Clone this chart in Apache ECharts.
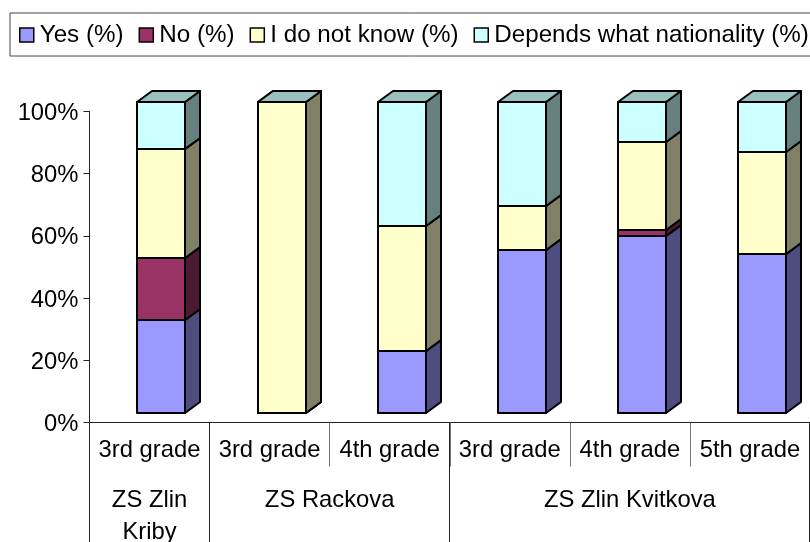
<!DOCTYPE html>
<html><head><meta charset="utf-8">
<style>html,body{margin:0;padding:0;background:#fff}#c{width:810px;height:542px}</style>
<script src="https://cdn.jsdelivr.net/npm/echarts@6/dist/echarts.min.js"></script></head>
<body><div id="c"></div>
<script>
const grades = ['3rd grade','3rd grade','4th grade','3rd grade','4th grade','5th grade'];
const schools = ['ZS Zlin\nKriby','ZS Rackova','ZS Zlin Kvitkova'];
const schoolSpans = [[0,0,0],[1,2,1],[3,5,2]];
const seriesNames = ['Yes (%)','No (%)','I do not know (%)','Depends what nationality (%)'];
const yes = [30,0,20,52.5,57,51];
const no = [20,0,0,0,2,0];
const unknown = [35,100,40,14,28,33];
const depends = [15,0,40,33.5,13,16];
const FONT = '"Liberation Sans", Arial, sans-serif';
const FS = 23.8;
const palette = [
 {f:'#9999FF',s:'#4D4D80',t:'#7373BF'},
 {f:'#993366',s:'#4D1A33',t:'#73264D'},
 {f:'#FFFFCC',s:'#808066',t:'#BFBF99'},
 {f:'#CCFFFF',s:'#668080',t:'#99BFBF'}];
const DX=15, DY=11, SHIFT_X=11.9, SHIFT_Y=9.5, BAR=48, STROKE='#000', SW=2;
const all=[yes,no,unknown,depends];
const base=grades.map(()=>0);
const barSeries=all.map((vals,si)=>{
  const data=vals.map((v,i)=>{const lo=base[i];base[i]+=v;return [i,lo,lo+v,v];});
  const c=palette[si];
  return {
    name:seriesNames[si],type:'custom',data,encode:{x:0,y:[1,2]},silent:true,
    itemStyle:{color:c.f},
    renderItem(p,api){
      const lo=api.coord([api.value(0),api.value(1)]);
      const hi=api.coord([api.value(0),api.value(2)]);
      const v=api.value(3);
      const x0=Math.round(lo[0]+SHIFT_X-BAR/2),x1=x0+BAR;
      const y0=Math.round(lo[1]-SHIFT_Y),y1=Math.round(hi[1]-SHIFT_Y);
      const st=fill=>({fill,stroke:STROKE,lineWidth:SW,lineJoin:'round'});
      const ch=[];
      if(v>0){
        ch.push({type:'polygon',shape:{points:[[x1,y0],[x1+DX,y0-DY],[x1+DX,y1-DY],[x1,y1]]},style:st(c.s)});
      }
      ch.push({type:'polygon',shape:{points:[[x0,y1],[x0+DX,y1-DY],[x1+DX,y1-DY],[x1,y1]]},style:st(c.t)});
      if(v>0){
        ch.push({type:'rect',shape:{x:x0,y:y1,width:BAR,height:y0-y1},style:st(c.f)});
      }
      return {type:'group',children:ch};
    }
  };
});
const schoolSeries={
  type:'custom',data:schoolSpans,encode:{x:[0,1]},silent:true,z:5,
  renderItem(p,api){
    const a=api.coord([api.value(0),0]),b=api.coord([api.value(1),0]);
    const band=api.size([1,0])[0];
    const left=a[0]-band/2,right=b[0]+band/2,y=a[1];
    const rx=Math.round(right-1)+0.5, lx=Math.round(left-1)+0.5;
    return {type:'group',children:[
      {type:'line',shape:{x1:lx,y1:y,x2:lx,y2:542},style:{stroke:'#222',lineWidth:1}},
      {type:'line',shape:{x1:rx,y1:y,x2:rx,y2:542},style:{stroke:'#222',lineWidth:1}},
      {type:'text',style:{text:schools[api.value(2)],x:(left+right)/2,y:y+62,align:'center',verticalAlign:'top',
        font:FS+'px '+FONT,lineHeight:32,fill:'#000'}}
    ]};
  }
};
const chart=echarts.init(document.getElementById('c'),null,{renderer:'canvas'});
chart.setOption({
  animation:false,backgroundColor:'#fff',
  legend:{
    left:10,top:13,width:1000,padding:[10,20,9,9],itemWidth:14,itemHeight:14,itemGap:15,
    selectedMode:false,borderColor:'#444',borderWidth:1,
    textStyle:{fontFamily:FONT,fontSize:24.2,color:'#000',padding:[0,0,0,1]},
    data:seriesNames.map((n,i)=>({name:n,icon:'rect',itemStyle:{color:palette[i].f,borderColor:'#000',borderWidth:1.5}}))
  },
  grid:{left:89.5,right:0,top:111.5,height:311,containLabel:false},
  xAxis:{type:'category',data:grades,
    axisLine:{show:true,onZero:false,lineStyle:{color:'#222',width:1}},
    axisTick:{show:true,alignWithLabel:false,length:44,lineStyle:{color:'#777',width:1}},
    axisLabel:{fontFamily:FONT,fontSize:FS,color:'#000',margin:16,interval:0,hideOverlap:false},
    splitLine:{show:false}},
  yAxis:{type:'value',min:0,max:100,interval:20,
    axisLine:{show:true,lineStyle:{color:'#222',width:1}},
    axisTick:{show:true,length:6,lineStyle:{color:'#222',width:1}},
    axisLabel:{fontFamily:FONT,fontSize:FS,color:'#000',margin:11,verticalAlign:'top',lineHeight:4,formatter:'{value}%'},
    splitLine:{show:false}},
  series:[...barSeries,schoolSeries]
});
</script></body></html>
